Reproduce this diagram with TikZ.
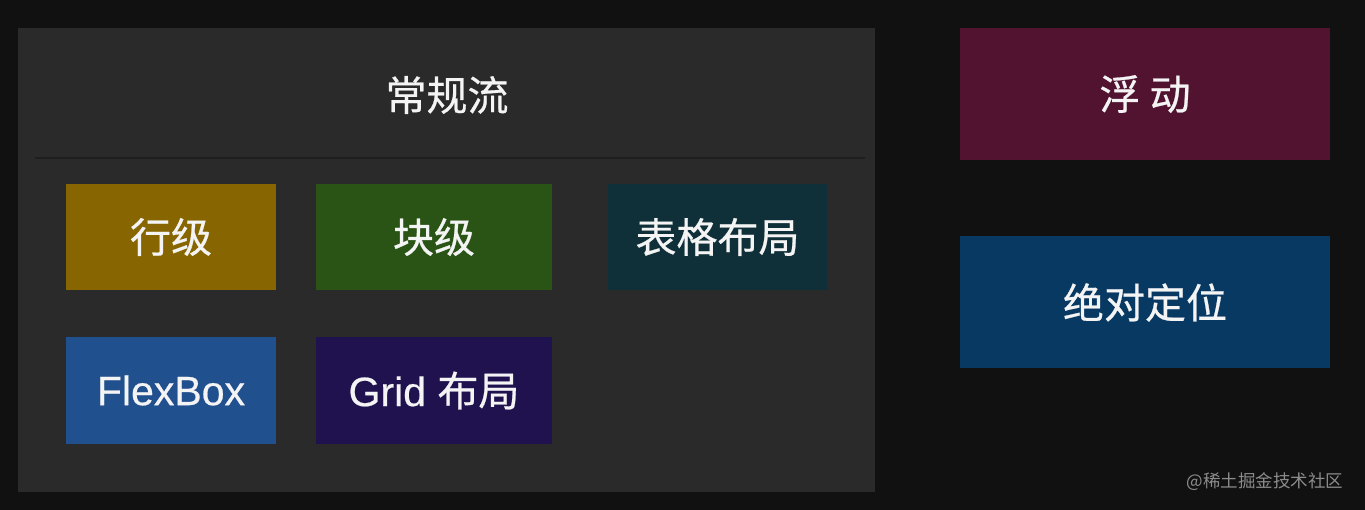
\documentclass[tikz,border=0pt]{standalone}
\usepackage{fontspec}
\setmainfont{Liberation Sans}[FakeBold=0.5]
\newfontfamily\cjk{Noto Sans CJK SC}[FakeBold=0.6]
\newfontfamily\cjkthin{Noto Sans CJK SC}
\definecolor{bgcol}{HTML}{111111}
\definecolor{pcol}{HTML}{2A2A2A}
\definecolor{lcol}{HTML}{1F1F1F}
\definecolor{inlcol}{HTML}{876500}
\definecolor{blkcol}{HTML}{2A5316}
\definecolor{tblcol}{HTML}{0F3039}
\definecolor{flexcol}{HTML}{21508F}
\definecolor{gridcol}{HTML}{20124F}
\definecolor{fltcol}{HTML}{511330}
\definecolor{abscol}{HTML}{083963}
\definecolor{txtcol}{HTML}{F4F4F4}
\tikzset{every picture/.style={x=1pt,y=-1pt}}
\tikzset{panel/.style={rectangle,inner sep=0pt,fill=pcol}}
\tikzset{tile/.style={rectangle,inner sep=0pt,text=txtcol,font=\fontsize{41}{43}\selectfont}}
\tikzset{small/.style={minimum width=210,minimum height=106}}
\tikzset{wide/.style={minimum width=236,minimum height=106}}
\tikzset{big/.style={minimum width=370,minimum height=132}}
\tikzset{annot/.style={text=gray!90,font=\cjkthin\fontsize{17.5}{20}\selectfont,anchor=east}}

\begin{document}
\begin{tikzpicture}
\fill [bgcol] (0,0) rectangle (1365,510);
\useasboundingbox (0,0) rectangle (1365,510);
% normal flow
\node [panel,minimum width=857,minimum height=464] (flow) at (446.5,260) {};
\node [tile] (title) at (447,95) {\cjk 常规流};
\coordinate (l1) at (35,158);
\coordinate (l2) at (865,158);
\draw [lcol,line width=1.5] (l1) -- (l2);
\node [tile,small,fill=inlcol] (inl) at (171,237) {\cjk 行级};
\node [tile,wide,fill=blkcol] (blk) at (434,237) {\cjk 块级};
\node [tile,fill=tblcol,minimum width=219,minimum height=106] (tbl) at (717.5,237) {\cjk 表格布局};
\node [tile,small,fill=flexcol] (flex) at (171,390.5) {FlexBox};
\node [tile,wide,fill=gridcol] (grid) at (434,390.5) {Grid {\cjk 布局}};
% out of flow
\node [tile,big,fill=fltcol] (flt) at (1145,94) {\cjk 浮 动};
\node [tile,big,fill=abscol] (abs) at (1145,302.5) {\cjk 绝对定位};
\node [annot] (mark) at (1347,482) {@稀土掘金技术社区};
\end{tikzpicture}
\end{document}
